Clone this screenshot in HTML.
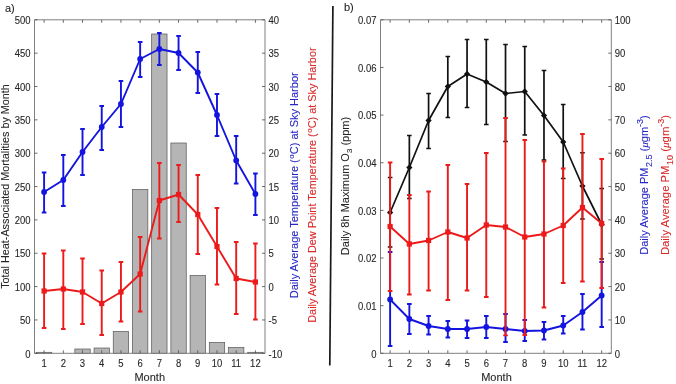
<!DOCTYPE html>
<html><head><meta charset="utf-8"><style>
html,body{margin:0;padding:0;background:#fff;width:676px;height:384px;overflow:hidden}
svg{display:block;will-change:transform}
text{font-family:"Liberation Sans",sans-serif;font-size:10px;fill:#262626;stroke:#262626;stroke-width:0.1px}
</style></head><body>
<svg width="676" height="384" viewBox="0 0 676 384">
<rect x="36.42" y="352.30" width="15.37" height="1.00" fill="#b5b5b5" stroke="#555" stroke-width="0.7"/>
<rect x="74.84" y="349.00" width="15.37" height="4.30" fill="#b5b5b5" stroke="#555" stroke-width="0.7"/>
<rect x="94.05" y="348.00" width="15.37" height="5.30" fill="#b5b5b5" stroke="#555" stroke-width="0.7"/>
<rect x="113.25" y="331.50" width="15.37" height="21.80" fill="#b5b5b5" stroke="#555" stroke-width="0.7"/>
<rect x="132.46" y="189.50" width="15.37" height="163.80" fill="#b5b5b5" stroke="#555" stroke-width="0.7"/>
<rect x="151.67" y="34.00" width="15.37" height="319.30" fill="#b5b5b5" stroke="#555" stroke-width="0.7"/>
<rect x="170.88" y="143.00" width="15.37" height="210.30" fill="#b5b5b5" stroke="#555" stroke-width="0.7"/>
<rect x="190.09" y="275.50" width="15.37" height="77.80" fill="#b5b5b5" stroke="#555" stroke-width="0.7"/>
<rect x="209.30" y="342.50" width="15.37" height="10.80" fill="#b5b5b5" stroke="#555" stroke-width="0.7"/>
<rect x="228.50" y="347.50" width="15.37" height="5.80" fill="#b5b5b5" stroke="#555" stroke-width="0.7"/>
<rect x="247.71" y="352.30" width="15.37" height="1.00" fill="#b5b5b5" stroke="#555" stroke-width="0.7"/>
<polyline points="44.10,192.00 63.31,180.00 82.52,152.00 101.73,127.00 120.94,104.00 140.15,59.00 159.35,49.00 178.56,53.00 197.77,72.50 216.98,115.00 236.19,160.50 255.40,194.00" fill="none" stroke="#1414e0" stroke-width="1.9" stroke-linejoin="round"/>
<path d="M44.10 172.50V212.50M41.80 172.50H46.40M41.80 212.50H46.40" stroke="#1414e0" stroke-width="1.9" fill="none"/>
<path d="M63.31 155.00V206.00M61.01 155.00H65.61M61.01 206.00H65.61" stroke="#1414e0" stroke-width="1.9" fill="none"/>
<path d="M82.52 129.00V175.00M80.22 129.00H84.82M80.22 175.00H84.82" stroke="#1414e0" stroke-width="1.9" fill="none"/>
<path d="M101.73 106.00V150.00M99.43 106.00H104.03M99.43 150.00H104.03" stroke="#1414e0" stroke-width="1.9" fill="none"/>
<path d="M120.94 81.00V127.00M118.64 81.00H123.24M118.64 127.00H123.24" stroke="#1414e0" stroke-width="1.9" fill="none"/>
<path d="M140.15 42.00V77.00M137.85 42.00H142.45M137.85 77.00H142.45" stroke="#1414e0" stroke-width="1.9" fill="none"/>
<path d="M159.35 33.00V65.00M157.05 33.00H161.65M157.05 65.00H161.65" stroke="#1414e0" stroke-width="1.9" fill="none"/>
<path d="M178.56 36.00V70.00M176.26 36.00H180.86M176.26 70.00H180.86" stroke="#1414e0" stroke-width="1.9" fill="none"/>
<path d="M197.77 52.00V93.00M195.47 52.00H200.07M195.47 93.00H200.07" stroke="#1414e0" stroke-width="1.9" fill="none"/>
<path d="M216.98 94.00V136.00M214.68 94.00H219.28M214.68 136.00H219.28" stroke="#1414e0" stroke-width="1.9" fill="none"/>
<path d="M236.19 136.00V183.50M233.89 136.00H238.49M233.89 183.50H238.49" stroke="#1414e0" stroke-width="1.9" fill="none"/>
<path d="M255.40 173.50V215.00M253.10 173.50H257.70M253.10 215.00H257.70" stroke="#1414e0" stroke-width="1.9" fill="none"/>
<circle cx="44.10" cy="192.00" r="2.9" fill="#1414e0"/>
<circle cx="63.31" cy="180.00" r="2.9" fill="#1414e0"/>
<circle cx="82.52" cy="152.00" r="2.9" fill="#1414e0"/>
<circle cx="101.73" cy="127.00" r="2.9" fill="#1414e0"/>
<circle cx="120.94" cy="104.00" r="2.9" fill="#1414e0"/>
<circle cx="140.15" cy="59.00" r="2.9" fill="#1414e0"/>
<circle cx="159.35" cy="49.00" r="2.9" fill="#1414e0"/>
<circle cx="178.56" cy="53.00" r="2.9" fill="#1414e0"/>
<circle cx="197.77" cy="72.50" r="2.9" fill="#1414e0"/>
<circle cx="216.98" cy="115.00" r="2.9" fill="#1414e0"/>
<circle cx="236.19" cy="160.50" r="2.9" fill="#1414e0"/>
<circle cx="255.40" cy="194.00" r="2.9" fill="#1414e0"/>
<polyline points="44.10,291.00 63.31,289.00 82.52,292.00 101.73,303.50 120.94,292.00 140.15,274.00 159.35,200.50 178.56,194.50 197.77,214.50 216.98,246.50 236.19,278.50 255.40,282.00" fill="none" stroke="#ec1a1a" stroke-width="1.9" stroke-linejoin="round"/>
<path d="M44.10 253.50V328.00M41.80 253.50H46.40M41.80 328.00H46.40" stroke="#ec1a1a" stroke-width="1.9" fill="none"/>
<path d="M63.31 250.50V329.00M61.01 250.50H65.61M61.01 329.00H65.61" stroke="#ec1a1a" stroke-width="1.9" fill="none"/>
<path d="M82.52 258.50V324.00M80.22 258.50H84.82M80.22 324.00H84.82" stroke="#ec1a1a" stroke-width="1.9" fill="none"/>
<path d="M101.73 270.50V335.00M99.43 270.50H104.03M99.43 335.00H104.03" stroke="#ec1a1a" stroke-width="1.9" fill="none"/>
<path d="M120.94 262.00V321.50M118.64 262.00H123.24M118.64 321.50H123.24" stroke="#ec1a1a" stroke-width="1.9" fill="none"/>
<path d="M140.15 237.00V311.50M137.85 237.00H142.45M137.85 311.50H142.45" stroke="#ec1a1a" stroke-width="1.9" fill="none"/>
<path d="M159.35 163.00V238.50M157.05 163.00H161.65M157.05 238.50H161.65" stroke="#ec1a1a" stroke-width="1.9" fill="none"/>
<path d="M178.56 165.00V222.00M176.26 165.00H180.86M176.26 222.00H180.86" stroke="#ec1a1a" stroke-width="1.9" fill="none"/>
<path d="M197.77 175.00V254.00M195.47 175.00H200.07M195.47 254.00H200.07" stroke="#ec1a1a" stroke-width="1.9" fill="none"/>
<path d="M216.98 208.00V284.50M214.68 208.00H219.28M214.68 284.50H219.28" stroke="#ec1a1a" stroke-width="1.9" fill="none"/>
<path d="M236.19 242.00V314.00M233.89 242.00H238.49M233.89 314.00H238.49" stroke="#ec1a1a" stroke-width="1.9" fill="none"/>
<path d="M255.40 243.50V319.50M253.10 243.50H257.70M253.10 319.50H257.70" stroke="#ec1a1a" stroke-width="1.9" fill="none"/>
<rect x="41.50" y="288.40" width="5.2" height="5.2" fill="#ec1a1a"/>
<rect x="60.71" y="286.40" width="5.2" height="5.2" fill="#ec1a1a"/>
<rect x="79.92" y="289.40" width="5.2" height="5.2" fill="#ec1a1a"/>
<rect x="99.13" y="300.90" width="5.2" height="5.2" fill="#ec1a1a"/>
<rect x="118.34" y="289.40" width="5.2" height="5.2" fill="#ec1a1a"/>
<rect x="137.55" y="271.40" width="5.2" height="5.2" fill="#ec1a1a"/>
<rect x="156.75" y="197.90" width="5.2" height="5.2" fill="#ec1a1a"/>
<rect x="175.96" y="191.90" width="5.2" height="5.2" fill="#ec1a1a"/>
<rect x="195.17" y="211.90" width="5.2" height="5.2" fill="#ec1a1a"/>
<rect x="214.38" y="243.90" width="5.2" height="5.2" fill="#ec1a1a"/>
<rect x="233.59" y="275.90" width="5.2" height="5.2" fill="#ec1a1a"/>
<rect x="252.80" y="279.40" width="5.2" height="5.2" fill="#ec1a1a"/>
<path d="M34.5 19.8V353.3H265.0V19.8H34.5" fill="none" stroke="#808080" stroke-width="1"/>
<path d="M44.10 353.3v-3M44.10 19.8v3" stroke="#505050" stroke-width="0.85"/>
<text class="t" transform="translate(44.10,367.3) scale(0.95,1.0)" text-anchor="middle">1</text>
<path d="M63.31 353.3v-3M63.31 19.8v3" stroke="#505050" stroke-width="0.85"/>
<text class="t" transform="translate(63.31,367.3) scale(0.95,1.0)" text-anchor="middle">2</text>
<path d="M82.52 353.3v-3M82.52 19.8v3" stroke="#505050" stroke-width="0.85"/>
<text class="t" transform="translate(82.52,367.3) scale(0.95,1.0)" text-anchor="middle">3</text>
<path d="M101.73 353.3v-3M101.73 19.8v3" stroke="#505050" stroke-width="0.85"/>
<text class="t" transform="translate(101.73,367.3) scale(0.95,1.0)" text-anchor="middle">4</text>
<path d="M120.94 353.3v-3M120.94 19.8v3" stroke="#505050" stroke-width="0.85"/>
<text class="t" transform="translate(120.94,367.3) scale(0.95,1.0)" text-anchor="middle">5</text>
<path d="M140.15 353.3v-3M140.15 19.8v3" stroke="#505050" stroke-width="0.85"/>
<text class="t" transform="translate(140.15,367.3) scale(0.95,1.0)" text-anchor="middle">6</text>
<path d="M159.35 353.3v-3M159.35 19.8v3" stroke="#505050" stroke-width="0.85"/>
<text class="t" transform="translate(159.35,367.3) scale(0.95,1.0)" text-anchor="middle">7</text>
<path d="M178.56 353.3v-3M178.56 19.8v3" stroke="#505050" stroke-width="0.85"/>
<text class="t" transform="translate(178.56,367.3) scale(0.95,1.0)" text-anchor="middle">8</text>
<path d="M197.77 353.3v-3M197.77 19.8v3" stroke="#505050" stroke-width="0.85"/>
<text class="t" transform="translate(197.77,367.3) scale(0.95,1.0)" text-anchor="middle">9</text>
<path d="M216.98 353.3v-3M216.98 19.8v3" stroke="#505050" stroke-width="0.85"/>
<text class="t" transform="translate(216.98,367.3) scale(0.95,1.0)" text-anchor="middle">10</text>
<path d="M236.19 353.3v-3M236.19 19.8v3" stroke="#505050" stroke-width="0.85"/>
<text class="t" transform="translate(236.19,367.3) scale(0.95,1.0)" text-anchor="middle">11</text>
<path d="M255.40 353.3v-3M255.40 19.8v3" stroke="#505050" stroke-width="0.85"/>
<text class="t" transform="translate(255.40,367.3) scale(0.95,1.0)" text-anchor="middle">12</text>
<path d="M34.5 353.30h3" stroke="#505050" stroke-width="0.85"/>
<text class="t" transform="translate(30.5,357.50) scale(0.95,1.0)" text-anchor="end">0</text>
<path d="M34.5 319.95h3" stroke="#505050" stroke-width="0.85"/>
<text class="t" transform="translate(30.5,324.15) scale(0.95,1.0)" text-anchor="end">50</text>
<path d="M34.5 286.60h3" stroke="#505050" stroke-width="0.85"/>
<text class="t" transform="translate(30.5,290.80) scale(0.95,1.0)" text-anchor="end">100</text>
<path d="M34.5 253.25h3" stroke="#505050" stroke-width="0.85"/>
<text class="t" transform="translate(30.5,257.45) scale(0.95,1.0)" text-anchor="end">150</text>
<path d="M34.5 219.90h3" stroke="#505050" stroke-width="0.85"/>
<text class="t" transform="translate(30.5,224.10) scale(0.95,1.0)" text-anchor="end">200</text>
<path d="M34.5 186.55h3" stroke="#505050" stroke-width="0.85"/>
<text class="t" transform="translate(30.5,190.75) scale(0.95,1.0)" text-anchor="end">250</text>
<path d="M34.5 153.20h3" stroke="#505050" stroke-width="0.85"/>
<text class="t" transform="translate(30.5,157.40) scale(0.95,1.0)" text-anchor="end">300</text>
<path d="M34.5 119.85h3" stroke="#505050" stroke-width="0.85"/>
<text class="t" transform="translate(30.5,124.05) scale(0.95,1.0)" text-anchor="end">350</text>
<path d="M34.5 86.50h3" stroke="#505050" stroke-width="0.85"/>
<text class="t" transform="translate(30.5,90.70) scale(0.95,1.0)" text-anchor="end">400</text>
<path d="M34.5 53.15h3" stroke="#505050" stroke-width="0.85"/>
<text class="t" transform="translate(30.5,57.35) scale(0.95,1.0)" text-anchor="end">450</text>
<path d="M34.5 19.80h3" stroke="#505050" stroke-width="0.85"/>
<text class="t" transform="translate(30.5,24.00) scale(0.95,1.0)" text-anchor="end">500</text>
<path d="M265.0 353.30h-3" stroke="#505050" stroke-width="0.85"/>
<text class="t" transform="translate(268.5,357.50) scale(0.95,1.0)" text-anchor="start">-10</text>
<path d="M265.0 319.95h-3" stroke="#505050" stroke-width="0.85"/>
<text class="t" transform="translate(268.5,324.15) scale(0.95,1.0)" text-anchor="start">-5</text>
<path d="M265.0 286.60h-3" stroke="#505050" stroke-width="0.85"/>
<text class="t" transform="translate(268.5,290.80) scale(0.95,1.0)" text-anchor="start">0</text>
<path d="M265.0 253.25h-3" stroke="#505050" stroke-width="0.85"/>
<text class="t" transform="translate(268.5,257.45) scale(0.95,1.0)" text-anchor="start">5</text>
<path d="M265.0 219.90h-3" stroke="#505050" stroke-width="0.85"/>
<text class="t" transform="translate(268.5,224.10) scale(0.95,1.0)" text-anchor="start">10</text>
<path d="M265.0 186.55h-3" stroke="#505050" stroke-width="0.85"/>
<text class="t" transform="translate(268.5,190.75) scale(0.95,1.0)" text-anchor="start">15</text>
<path d="M265.0 153.20h-3" stroke="#505050" stroke-width="0.85"/>
<text class="t" transform="translate(268.5,157.40) scale(0.95,1.0)" text-anchor="start">20</text>
<path d="M265.0 119.85h-3" stroke="#505050" stroke-width="0.85"/>
<text class="t" transform="translate(268.5,124.05) scale(0.95,1.0)" text-anchor="start">25</text>
<path d="M265.0 86.50h-3" stroke="#505050" stroke-width="0.85"/>
<text class="t" transform="translate(268.5,90.70) scale(0.95,1.0)" text-anchor="start">30</text>
<path d="M265.0 53.15h-3" stroke="#505050" stroke-width="0.85"/>
<text class="t" transform="translate(268.5,57.35) scale(0.95,1.0)" text-anchor="start">35</text>
<path d="M265.0 19.80h-3" stroke="#505050" stroke-width="0.85"/>
<text class="t" transform="translate(268.5,24.00) scale(0.95,1.0)" text-anchor="start">40</text>
<polyline points="390.12,212.50 409.35,167.50 428.58,120.50 447.82,86.50 467.05,74.00 486.28,82.00 505.52,93.50 524.75,91.50 543.98,115.50 563.22,142.00 582.45,186.00 601.68,224.50" fill="none" stroke="#111" stroke-width="1.7" stroke-linejoin="round"/>
<path d="M390.12 177.50V247.00M387.82 177.50H392.42M387.82 247.00H392.42" stroke="#111" stroke-width="1.7" fill="none"/>
<path d="M409.35 135.50V198.50M407.05 135.50H411.65M407.05 198.50H411.65" stroke="#111" stroke-width="1.7" fill="none"/>
<path d="M428.58 93.50V148.50M426.28 93.50H430.88M426.28 148.50H430.88" stroke="#111" stroke-width="1.7" fill="none"/>
<path d="M447.82 56.50V117.50M445.52 56.50H450.12M445.52 117.50H450.12" stroke="#111" stroke-width="1.7" fill="none"/>
<path d="M467.05 39.50V107.50M464.75 39.50H469.35M464.75 107.50H469.35" stroke="#111" stroke-width="1.7" fill="none"/>
<path d="M486.28 39.50V124.50M483.98 39.50H488.58M483.98 124.50H488.58" stroke="#111" stroke-width="1.7" fill="none"/>
<path d="M505.52 44.50V141.50M503.22 44.50H507.82M503.22 141.50H507.82" stroke="#111" stroke-width="1.7" fill="none"/>
<path d="M524.75 46.50V135.00M522.45 46.50H527.05M522.45 135.00H527.05" stroke="#111" stroke-width="1.7" fill="none"/>
<path d="M543.98 70.50V160.00M541.68 70.50H546.28M541.68 160.00H546.28" stroke="#111" stroke-width="1.7" fill="none"/>
<path d="M563.22 104.50V178.50M560.92 104.50H565.52M560.92 178.50H565.52" stroke="#111" stroke-width="1.7" fill="none"/>
<path d="M582.45 152.75V219.00M580.15 152.75H584.75M580.15 219.00H584.75" stroke="#111" stroke-width="1.7" fill="none"/>
<path d="M601.68 188.50V259.00M599.38 188.50H603.98M599.38 259.00H603.98" stroke="#111" stroke-width="1.7" fill="none"/>
<path d="M390.12 209.20L393.22 212.50L390.12 215.80L387.02 212.50Z" fill="#111"/>
<path d="M409.35 164.20L412.45 167.50L409.35 170.80L406.25 167.50Z" fill="#111"/>
<path d="M428.58 117.20L431.68 120.50L428.58 123.80L425.48 120.50Z" fill="#111"/>
<path d="M447.82 83.20L450.92 86.50L447.82 89.80L444.72 86.50Z" fill="#111"/>
<path d="M467.05 70.70L470.15 74.00L467.05 77.30L463.95 74.00Z" fill="#111"/>
<path d="M486.28 78.70L489.38 82.00L486.28 85.30L483.18 82.00Z" fill="#111"/>
<path d="M505.52 90.20L508.62 93.50L505.52 96.80L502.42 93.50Z" fill="#111"/>
<path d="M524.75 88.20L527.85 91.50L524.75 94.80L521.65 91.50Z" fill="#111"/>
<path d="M543.98 112.20L547.08 115.50L543.98 118.80L540.88 115.50Z" fill="#111"/>
<path d="M563.22 138.70L566.32 142.00L563.22 145.30L560.12 142.00Z" fill="#111"/>
<path d="M582.45 182.70L585.55 186.00L582.45 189.30L579.35 186.00Z" fill="#111"/>
<path d="M601.68 221.20L604.78 224.50L601.68 227.80L598.58 224.50Z" fill="#111"/>
<polyline points="390.12,299.50 409.35,319.00 428.58,326.00 447.82,329.00 467.05,329.00 486.28,327.00 505.52,329.00 524.75,331.00 543.98,330.50 563.22,325.50 582.45,312.00 601.68,295.50" fill="none" stroke="#1414e0" stroke-width="1.9" stroke-linejoin="round"/>
<path d="M390.12 252.00V346.00M387.82 252.00H392.42M387.82 346.00H392.42" stroke="#1414e0" stroke-width="1.9" fill="none"/>
<path d="M409.35 304.00V334.00M407.05 304.00H411.65M407.05 334.00H411.65" stroke="#1414e0" stroke-width="1.9" fill="none"/>
<path d="M428.58 316.00V334.50M426.28 316.00H430.88M426.28 334.50H430.88" stroke="#1414e0" stroke-width="1.9" fill="none"/>
<path d="M447.82 321.00V337.50M445.52 321.00H450.12M445.52 337.50H450.12" stroke="#1414e0" stroke-width="1.9" fill="none"/>
<path d="M467.05 320.50V338.00M464.75 320.50H469.35M464.75 338.00H469.35" stroke="#1414e0" stroke-width="1.9" fill="none"/>
<path d="M486.28 316.00V338.00M483.98 316.00H488.58M483.98 338.00H488.58" stroke="#1414e0" stroke-width="1.9" fill="none"/>
<path d="M505.52 314.00V342.00M503.22 314.00H507.82M503.22 342.00H507.82" stroke="#1414e0" stroke-width="1.9" fill="none"/>
<path d="M524.75 320.00V341.00M522.45 320.00H527.05M522.45 341.00H527.05" stroke="#1414e0" stroke-width="1.9" fill="none"/>
<path d="M543.98 322.00V339.50M541.68 322.00H546.28M541.68 339.50H546.28" stroke="#1414e0" stroke-width="1.9" fill="none"/>
<path d="M563.22 316.00V333.50M560.92 316.00H565.52M560.92 333.50H565.52" stroke="#1414e0" stroke-width="1.9" fill="none"/>
<path d="M582.45 294.00V329.50M580.15 294.00H584.75M580.15 329.50H584.75" stroke="#1414e0" stroke-width="1.9" fill="none"/>
<path d="M601.68 262.00V327.00M599.38 262.00H603.98M599.38 327.00H603.98" stroke="#1414e0" stroke-width="1.9" fill="none"/>
<circle cx="390.12" cy="299.50" r="2.9" fill="#1414e0"/>
<circle cx="409.35" cy="319.00" r="2.9" fill="#1414e0"/>
<circle cx="428.58" cy="326.00" r="2.9" fill="#1414e0"/>
<circle cx="447.82" cy="329.00" r="2.9" fill="#1414e0"/>
<circle cx="467.05" cy="329.00" r="2.9" fill="#1414e0"/>
<circle cx="486.28" cy="327.00" r="2.9" fill="#1414e0"/>
<circle cx="505.52" cy="329.00" r="2.9" fill="#1414e0"/>
<circle cx="524.75" cy="331.00" r="2.9" fill="#1414e0"/>
<circle cx="543.98" cy="330.50" r="2.9" fill="#1414e0"/>
<circle cx="563.22" cy="325.50" r="2.9" fill="#1414e0"/>
<circle cx="582.45" cy="312.00" r="2.9" fill="#1414e0"/>
<circle cx="601.68" cy="295.50" r="2.9" fill="#1414e0"/>
<polyline points="390.12,226.50 409.35,244.00 428.58,240.50 447.82,232.00 467.05,238.00 486.28,225.00 505.52,227.00 524.75,237.00 543.98,234.00 563.22,225.50 582.45,207.50 601.68,223.50" fill="none" stroke="#ec1a1a" stroke-width="1.9" stroke-linejoin="round"/>
<path d="M390.12 162.50V291.00M387.82 162.50H392.42M387.82 291.00H392.42" stroke="#ec1a1a" stroke-width="1.9" fill="none"/>
<path d="M409.35 195.00V294.50M407.05 195.00H411.65M407.05 294.50H411.65" stroke="#ec1a1a" stroke-width="1.9" fill="none"/>
<path d="M428.58 191.50V290.50M426.28 191.50H430.88M426.28 290.50H430.88" stroke="#ec1a1a" stroke-width="1.9" fill="none"/>
<path d="M447.82 165.00V300.00M445.52 165.00H450.12M445.52 300.00H450.12" stroke="#ec1a1a" stroke-width="1.9" fill="none"/>
<path d="M467.05 184.00V290.50M464.75 184.00H469.35M464.75 290.50H469.35" stroke="#ec1a1a" stroke-width="1.9" fill="none"/>
<path d="M486.28 153.00V297.00M483.98 153.00H488.58M483.98 297.00H488.58" stroke="#ec1a1a" stroke-width="1.9" fill="none"/>
<path d="M505.52 118.00V335.40M503.22 118.00H507.82M503.22 335.40H507.82" stroke="#ec1a1a" stroke-width="1.9" fill="none"/>
<path d="M524.75 140.00V335.00M522.45 140.00H527.05M522.45 335.00H527.05" stroke="#ec1a1a" stroke-width="1.9" fill="none"/>
<path d="M543.98 161.50V307.50M541.68 161.50H546.28M541.68 307.50H546.28" stroke="#ec1a1a" stroke-width="1.9" fill="none"/>
<path d="M563.22 168.50V283.00M560.92 168.50H565.52M560.92 283.00H565.52" stroke="#ec1a1a" stroke-width="1.9" fill="none"/>
<path d="M582.45 134.00V281.50M580.15 134.00H584.75M580.15 281.50H584.75" stroke="#ec1a1a" stroke-width="1.9" fill="none"/>
<path d="M601.68 159.00V288.00M599.38 159.00H603.98M599.38 288.00H603.98" stroke="#ec1a1a" stroke-width="1.9" fill="none"/>
<rect x="387.52" y="223.90" width="5.2" height="5.2" fill="#ec1a1a"/>
<rect x="406.75" y="241.40" width="5.2" height="5.2" fill="#ec1a1a"/>
<rect x="425.98" y="237.90" width="5.2" height="5.2" fill="#ec1a1a"/>
<rect x="445.22" y="229.40" width="5.2" height="5.2" fill="#ec1a1a"/>
<rect x="464.45" y="235.40" width="5.2" height="5.2" fill="#ec1a1a"/>
<rect x="483.68" y="222.40" width="5.2" height="5.2" fill="#ec1a1a"/>
<rect x="502.92" y="224.40" width="5.2" height="5.2" fill="#ec1a1a"/>
<rect x="522.15" y="234.40" width="5.2" height="5.2" fill="#ec1a1a"/>
<rect x="541.38" y="231.40" width="5.2" height="5.2" fill="#ec1a1a"/>
<rect x="560.62" y="222.90" width="5.2" height="5.2" fill="#ec1a1a"/>
<rect x="579.85" y="204.90" width="5.2" height="5.2" fill="#ec1a1a"/>
<rect x="599.08" y="220.90" width="5.2" height="5.2" fill="#ec1a1a"/>
<path d="M380.5 19.8V353.3H611.3V19.8H380.5" fill="none" stroke="#808080" stroke-width="1"/>
<path d="M390.12 353.3v-3M390.12 19.8v3" stroke="#505050" stroke-width="0.85"/>
<text class="t" transform="translate(390.12,367.3) scale(0.95,1.0)" text-anchor="middle">1</text>
<path d="M409.35 353.3v-3M409.35 19.8v3" stroke="#505050" stroke-width="0.85"/>
<text class="t" transform="translate(409.35,367.3) scale(0.95,1.0)" text-anchor="middle">2</text>
<path d="M428.58 353.3v-3M428.58 19.8v3" stroke="#505050" stroke-width="0.85"/>
<text class="t" transform="translate(428.58,367.3) scale(0.95,1.0)" text-anchor="middle">3</text>
<path d="M447.82 353.3v-3M447.82 19.8v3" stroke="#505050" stroke-width="0.85"/>
<text class="t" transform="translate(447.82,367.3) scale(0.95,1.0)" text-anchor="middle">4</text>
<path d="M467.05 353.3v-3M467.05 19.8v3" stroke="#505050" stroke-width="0.85"/>
<text class="t" transform="translate(467.05,367.3) scale(0.95,1.0)" text-anchor="middle">5</text>
<path d="M486.28 353.3v-3M486.28 19.8v3" stroke="#505050" stroke-width="0.85"/>
<text class="t" transform="translate(486.28,367.3) scale(0.95,1.0)" text-anchor="middle">6</text>
<path d="M505.52 353.3v-3M505.52 19.8v3" stroke="#505050" stroke-width="0.85"/>
<text class="t" transform="translate(505.52,367.3) scale(0.95,1.0)" text-anchor="middle">7</text>
<path d="M524.75 353.3v-3M524.75 19.8v3" stroke="#505050" stroke-width="0.85"/>
<text class="t" transform="translate(524.75,367.3) scale(0.95,1.0)" text-anchor="middle">8</text>
<path d="M543.98 353.3v-3M543.98 19.8v3" stroke="#505050" stroke-width="0.85"/>
<text class="t" transform="translate(543.98,367.3) scale(0.95,1.0)" text-anchor="middle">9</text>
<path d="M563.22 353.3v-3M563.22 19.8v3" stroke="#505050" stroke-width="0.85"/>
<text class="t" transform="translate(563.22,367.3) scale(0.95,1.0)" text-anchor="middle">10</text>
<path d="M582.45 353.3v-3M582.45 19.8v3" stroke="#505050" stroke-width="0.85"/>
<text class="t" transform="translate(582.45,367.3) scale(0.95,1.0)" text-anchor="middle">11</text>
<path d="M601.68 353.3v-3M601.68 19.8v3" stroke="#505050" stroke-width="0.85"/>
<text class="t" transform="translate(601.68,367.3) scale(0.95,1.0)" text-anchor="middle">12</text>
<path d="M380.5 353.30h3" stroke="#505050" stroke-width="0.85"/>
<text class="t" transform="translate(376.5,357.50) scale(0.95,1.0)" text-anchor="end">0</text>
<path d="M380.5 305.66h3" stroke="#505050" stroke-width="0.85"/>
<text class="t" transform="translate(376.5,309.86) scale(0.95,1.0)" text-anchor="end">0.01</text>
<path d="M380.5 258.01h3" stroke="#505050" stroke-width="0.85"/>
<text class="t" transform="translate(376.5,262.21) scale(0.95,1.0)" text-anchor="end">0.02</text>
<path d="M380.5 210.37h3" stroke="#505050" stroke-width="0.85"/>
<text class="t" transform="translate(376.5,214.57) scale(0.95,1.0)" text-anchor="end">0.03</text>
<path d="M380.5 162.73h3" stroke="#505050" stroke-width="0.85"/>
<text class="t" transform="translate(376.5,166.93) scale(0.95,1.0)" text-anchor="end">0.04</text>
<path d="M380.5 115.09h3" stroke="#505050" stroke-width="0.85"/>
<text class="t" transform="translate(376.5,119.29) scale(0.95,1.0)" text-anchor="end">0.05</text>
<path d="M380.5 67.44h3" stroke="#505050" stroke-width="0.85"/>
<text class="t" transform="translate(376.5,71.64) scale(0.95,1.0)" text-anchor="end">0.06</text>
<path d="M380.5 19.80h3" stroke="#505050" stroke-width="0.85"/>
<text class="t" transform="translate(376.5,24.00) scale(0.95,1.0)" text-anchor="end">0.07</text>
<path d="M611.3 353.30h-3" stroke="#505050" stroke-width="0.85"/>
<text class="t" transform="translate(614.8,357.50) scale(0.95,1.0)" text-anchor="start">0</text>
<path d="M611.3 319.95h-3" stroke="#505050" stroke-width="0.85"/>
<text class="t" transform="translate(614.8,324.15) scale(0.95,1.0)" text-anchor="start">10</text>
<path d="M611.3 286.60h-3" stroke="#505050" stroke-width="0.85"/>
<text class="t" transform="translate(614.8,290.80) scale(0.95,1.0)" text-anchor="start">20</text>
<path d="M611.3 253.25h-3" stroke="#505050" stroke-width="0.85"/>
<text class="t" transform="translate(614.8,257.45) scale(0.95,1.0)" text-anchor="start">30</text>
<path d="M611.3 219.90h-3" stroke="#505050" stroke-width="0.85"/>
<text class="t" transform="translate(614.8,224.10) scale(0.95,1.0)" text-anchor="start">40</text>
<path d="M611.3 186.55h-3" stroke="#505050" stroke-width="0.85"/>
<text class="t" transform="translate(614.8,190.75) scale(0.95,1.0)" text-anchor="start">50</text>
<path d="M611.3 153.20h-3" stroke="#505050" stroke-width="0.85"/>
<text class="t" transform="translate(614.8,157.40) scale(0.95,1.0)" text-anchor="start">60</text>
<path d="M611.3 119.85h-3" stroke="#505050" stroke-width="0.85"/>
<text class="t" transform="translate(614.8,124.05) scale(0.95,1.0)" text-anchor="start">70</text>
<path d="M611.3 86.50h-3" stroke="#505050" stroke-width="0.85"/>
<text class="t" transform="translate(614.8,90.70) scale(0.95,1.0)" text-anchor="start">80</text>
<path d="M611.3 53.15h-3" stroke="#505050" stroke-width="0.85"/>
<text class="t" transform="translate(614.8,57.35) scale(0.95,1.0)" text-anchor="start">90</text>
<path d="M611.3 19.80h-3" stroke="#505050" stroke-width="0.85"/>
<text class="t" transform="translate(614.8,24.00) scale(0.95,1.0)" text-anchor="start">100</text>
<text x="5" y="11.5" style="font-size:11px">a)</text>
<text x="344" y="11" style="font-size:11px">b)</text>
<text x="149.75" y="381" text-anchor="middle" style="font-size:11px">Month</text>
<text x="496.5" y="381" text-anchor="middle" style="font-size:11px">Month</text>
<text transform="translate(9.2,186.5) rotate(-90)" text-anchor="middle" style="font-size:10.8px;fill:#262626;stroke:#262626;stroke-width:0.08px">Total Heat-Associated Mortalities by Month</text>
<text transform="translate(298,185.3) rotate(-90)" text-anchor="middle" style="font-size:11px;fill:#2626c4;stroke:#2626c4;stroke-width:0.08px">Daily Average Temperature (<tspan dx="0.6" dy="-4.5" style="font-size:8px">o</tspan><tspan dy="4.5">C) at Sky Harbor</tspan></text>
<text transform="translate(316,185.1) rotate(-90)" text-anchor="middle" style="font-size:10.85px;fill:#d82828;stroke:#d82828;stroke-width:0.08px">Daily Average Dew Point Temperature (<tspan dx="0.6" dy="-4.5" style="font-size:8px">o</tspan><tspan dy="4.5">C) at Sky Harbor</tspan></text>
<text transform="translate(348.5,186) rotate(-90)" text-anchor="middle" style="font-size:11px;fill:#262626;stroke:#262626;stroke-width:0.08px">Daily 8h Maximum O<tspan dy="3" style="font-size:8px">3</tspan><tspan dy="-3"> (ppm)</tspan></text>
<text transform="translate(647.5,185) rotate(-90)" text-anchor="middle" style="font-size:11px;fill:#2626c4;stroke:#2626c4;stroke-width:0.08px">Daily Average PM<tspan dx="0.5" dy="4" style="font-size:9px">2.5</tspan><tspan dy="-4"> (<tspan style="font-family:Liberation Serif;font-style:italic">μ</tspan>gm<tspan dy="-4.5" style="font-size:9px">-3</tspan><tspan dy="4.5">)</tspan></tspan></text>
<text transform="translate(668.5,185) rotate(-90)" text-anchor="middle" style="font-size:11.3px;fill:#d82828;stroke:#d82828;stroke-width:0.08px">Daily Average PM<tspan dx="0.5" dy="4" style="font-size:9px">10</tspan><tspan dy="-4"> (<tspan style="font-family:Liberation Serif;font-style:italic">μ</tspan>gm<tspan dy="-4.5" style="font-size:9px">-3</tspan><tspan dy="4.5">)</tspan></tspan></text>
<path d="M332.9 6L329.8 365.4" stroke="#1a1a1a" stroke-width="1.7"/>
</svg></body></html>
